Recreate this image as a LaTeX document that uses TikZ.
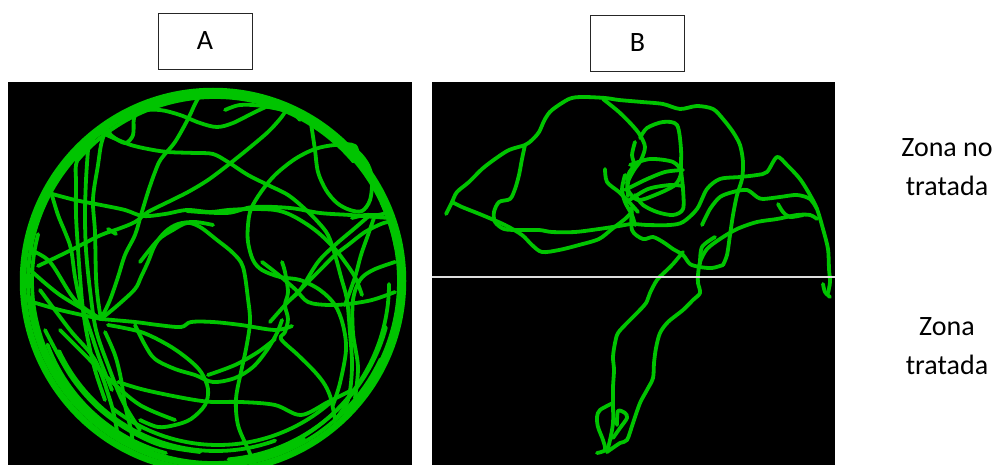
\documentclass[tikz,border=0pt]{standalone}
\usepackage{fontspec}
\setmainfont{Carlito}
\definecolor{trk}{RGB}{0,196,0}
\definecolor{midline}{RGB}{222,222,222}
\newcommand{\ringarc}[5][0]{\draw[trk] plot[domain=#3:#4, samples=70, smooth] ({213+#5+#2*cos(\x)},{281+#1-#2*sin(\x)});}
\begin{document}
\begin{tikzpicture}[x=1pt, y=-1pt,
  trk/.style={draw=trk, line width=3.8pt, line join=round, line cap=round},
  labelbox/.style={draw=black!85, line width=0.8pt, minimum width=94pt, minimum height=56pt, inner sep=0pt, font=\fontsize{28}{34}\selectfont},
  sidelabel/.style={font=\fontsize{28}{34}\selectfont, inner sep=0pt, anchor=base}]
\useasboundingbox (0,0) rectangle (995,465);
\fill[white] (0,0) rectangle (995,465);

% ---------- labels ----------
\node[labelbox] (boxA) at (205,41) {A};
\node[labelbox] (boxB) at (637.5,43) {B};
\node[sidelabel] (zn1) at (947,157) {Zona no};
\node[sidelabel] (zn2) at (947,196) {tratada};
\node[sidelabel] (zt1) at (947,335) {Zona};
\node[sidelabel] (zt2) at (947,374) {tratada};

% ---------- panel A ----------
\fill[black] (8,82) rectangle (412,465);
\begin{scope}
\clip (8,82) rectangle (412,465);
\draw[trk, line width=6.5pt] (213,281) circle[radius=190pt];
\ringarc{186}{10}{170}{0}
\ringarc{185}{130}{270}{0}
\ringarc{181}{165}{250}{0}
\ringarc{182}{185}{300}{0}
\ringarc{185}{250}{335}{0}
\ringarc{186}{-45}{25}{0}
\ringarc{179}{275}{345}{0}
\ringarc[-3]{173}{205}{290}{3}
\ringarc[4]{174}{200}{255}{-2}
\ringarc[3]{178}{300}{360}{-2}
\ringarc[-3]{181}{40}{140}{2}
\ringarc[-6]{170}{232}{312}{5}

\draw[trk] plot[smooth, tension=0.55] coordinates {(100,132) (128,144) (148,149) (168,152) (195,153) (213,154) (228,162) (248,175) (268,185) (288,195) (305,209) (318,222) (328,235) (335,255) (341,277) (347,300) (350,333) (352,367) (348,400) (335,420)};
\draw[trk] plot[smooth, tension=0.55] coordinates {(125,118) (140,111) (160,110) (180,115) (200,123) (217,127) (233,123) (253,113) (270,105)};
\draw[trk] plot[smooth, tension=0.55] coordinates {(108,130) (112,136) (125,143) (133,135) (134,118) (140,108)};
\draw[trk] plot[smooth, tension=0.55] coordinates {(200,95) (195,104) (188,119) (175,142) (161,159) (155,172) (148,192) (141,215) (135,235) (125,255) (118,277) (110,300) (101,319)};
\draw[trk] plot[smooth, tension=0.55] coordinates {(285,112) (280,119) (268,132) (248,149) (228,165) (208,180) (188,192) (168,202) (148,212) (135,222) (118,229) (101,235) (81,245) (61,255) (38,266)};
\draw[trk] plot[smooth, tension=0.55] coordinates {(45,192) (75,200) (101,205) (125,210) (143,216) (165,214) (187,210) (210,212) (228,210) (251,209) (275,210) (291,215) (308,225) (321,235) (335,249) (345,262) (355,277) (362,295)};
\draw[trk] plot[smooth, tension=0.55] coordinates {(187,211) (227,213) (253,207) (290,208) (320,213) (350,215) (375,217) (390,218)};
\draw[trk] plot[smooth, tension=0.55] coordinates {(343,142) (358,152) (368,165) (372,180) (370,200) (362,211) (350,210) (337,203) (326,190) (318,172) (315,150) (312,130) (310,118)};
\draw[trk] plot[smooth, tension=0.55] coordinates {(358,163) (355,146) (335,145) (315,149) (295,159) (275,175) (261,192) (251,209) (248,225) (248,242) (253,260) (262,270) (280,277) (300,280) (320,290) (335,305) (343,325) (346,350) (340,383) (333,405)};
\draw[trk] plot[smooth, tension=0.55] coordinates {(140,262) (158,240) (173,230) (187,223) (200,227) (217,240) (233,253) (243,267) (248,299) (250,322) (246,349) (241,372) (236,399) (238,425) (248,449) (255,465)};
\draw[trk] plot[smooth, tension=0.55] coordinates {(213,225) (195,222) (178,224) (165,232) (155,245) (148,262) (141,277) (135,289) (118,305) (101,319)};
\draw[trk] plot[smooth, tension=0.55] coordinates {(101,319) (135,322) (158,325) (181,327) (191,322) (213,322) (241,325) (275,330) (292,326)};
\draw[trk] plot[smooth, tension=0.55] coordinates {(28,268) (60,295) (101,319)};
\draw[trk] plot[smooth, tension=0.55] coordinates {(26,300) (60,310) (101,319)};
\draw[trk] plot[smooth, tension=0.55] coordinates {(30,250) (50,262) (75,300) (101,319)};
\draw[trk] plot[smooth, tension=0.55] coordinates {(108,325) (141,332) (168,345) (188,359) (201,372) (208,389) (205,405) (191,419) (175,425) (158,427) (140,420)};
\draw[trk] plot[smooth, tension=0.55] coordinates {(135,325) (145,345) (155,359) (175,369) (195,375) (213,382) (235,378) (253,367) (267,350) (277,333) (282,320)};
\draw[trk] plot[smooth, tension=0.55] coordinates {(118,382) (141,389) (168,395) (195,400) (213,402) (241,402) (275,405) (301,415) (328,402) (352,390)};
\draw[trk] plot[smooth, tension=0.55] coordinates {(105,332) (115,355) (121,379) (125,405) (131,430) (133,445)};
\draw[trk] plot[smooth, tension=0.55] coordinates {(282,262) (285,272) (288,292) (285,305) (288,319) (285,332) (281,339) (298,355) (315,372) (325,385) (331,399) (335,420)};
\draw[trk] plot[smooth, tension=0.55] coordinates {(370,215) (355,228) (335,245) (318,262) (301,289) (291,299) (285,305) (270,322)};
\draw[trk] plot[smooth, tension=0.55] coordinates {(262,262) (275,272) (295,289) (308,302) (328,305) (348,304) (372,300) (395,292)};
\draw[trk] plot[smooth, tension=0.55] coordinates {(395,262) (373,270) (360,280) (353,300) (353,333) (358,367) (355,398)};
\draw[trk] plot[smooth, tension=0.55] coordinates {(390,212) (378,215) (365,215) (352,218)};
\draw[trk] plot[smooth, tension=0.55] coordinates {(388,222) (381,224) (365,232) (348,245) (335,255) (321,269) (305,285) (290,300)};
\draw[trk] plot[smooth, tension=0.55] coordinates {(375,215) (368,235) (361,255) (355,277) (345,305)};
\draw[trk] plot[smooth, tension=0.55] coordinates {(82,148) (76,165) (76,182) (76,215) (78,249) (80,277) (83,310) (88,340) (95,370) (105,400)};
\draw[trk] plot[smooth, tension=0.55] coordinates {(105,132) (101,145) (98,165) (93,199) (95,232) (96,277) (98,300) (101,319)};
\draw[trk] plot[smooth, tension=0.55] coordinates {(51,192) (58,215) (65,232) (71,249) (75,277) (80,300) (90,330) (100,360) (112,390)};
\draw[trk] plot[smooth, tension=0.55] coordinates {(88,150) (86,180) (85,215) (86,250) (90,290) (96,330) (108,365) (122,400) (140,430)};
\draw[trk] (108,229) -- (116,234);
\draw[trk] plot[smooth, tension=0.55] coordinates {(208,375) (235,365) (258,352) (275,339)};
\draw[trk] plot[smooth, tension=0.55] coordinates {(60,330) (85,355) (110,380) (140,405) (175,420)};
\draw[trk] plot[smooth, tension=0.55] coordinates {(45,330) (70,375) (95,405) (125,428) (160,445) (200,452)};
\draw[trk] plot[smooth, tension=0.55] coordinates {(40,290) (70,330) (95,360) (110,400) (116,425) (118,440)};
\draw[trk] plot[smooth, tension=0.55] coordinates {(225,110) (240,105) (262,106) (290,112) (300,120)};
\end{scope}

% ---------- panel B ----------
\fill[black] (432,82) rectangle (835,465);
\begin{scope}
\clip (432,82) rectangle (835,465);
\draw[trk] plot[smooth, tension=0.5] coordinates {(446,214) (452,202) (457,192) (469,182) (482,169) (495,159) (509,150) (525,145) (532,140) (539,132) (545,119) (552,110) (569,99) (582,97) (605,98) (619,100) (642,102) (663,104) (680,109) (697,106) (713,109) (723,119) (733,132) (740,145) (743,162) (742,179) (737,195) (733,215) (730,235) (727,255) (723,265)};
\draw[trk] plot[smooth, tension=0.5] coordinates {(525,145) (522,159) (519,175) (515,189) (510,199) (499,202) (494,212) (495,222) (504,229) (519,230) (539,230) (552,232) (575,232) (599,229) (619,226) (632,224) (647,225) (670,225) (683,222) (697,209) (707,189) (720,179) (740,177) (757,175) (767,172) (777,157) (787,165) (800,179) (810,195) (817,209) (823,229) (828,249) (829,269) (830,282) (828,293)};
\draw[trk] plot[smooth, tension=0.5] coordinates {(823,284) (825,292) (830,297)};
\draw[trk] plot[smooth, tension=0.5] coordinates {(452,202) (462,207) (482,215) (505,225) (522,235) (532,245) (542,252) (559,250) (579,245) (599,239) (612,229) (625,219) (632,212)};
\draw[trk] plot[smooth, tension=0.5] coordinates {(603,99) (619,112) (632,125) (640,135) (645,147) (641,160) (634,170) (628,182) (628,196)};
\draw[trk] plot[smooth, tension=0.5] coordinates {(640,138) (647,128) (663,122) (677,125) (681,149) (681,169) (683,189) (683,209) (673,215) (657,212) (643,205) (635,195)};
\draw[trk] plot[smooth, tension=0.5] coordinates {(630,165) (650,159) (673,162) (681,172) (675,185) (655,195) (638,200) (628,190) (628,175) (635,165)};
\draw[trk] plot[smooth, tension=0.5] coordinates {(625,190) (645,180) (665,172) (683,170)};
\draw[trk] plot[smooth, tension=0.5] coordinates {(628,201) (648,189) (670,185) (683,186)};
\draw[trk] plot[smooth, tension=0.5] coordinates {(605,169) (607,182) (619,192) (629,202) (638,212)};
\draw[trk] plot[smooth, tension=0.5] coordinates {(635,142) (632,155) (635,165)};
\draw[trk] plot[smooth, tension=0.5] coordinates {(625,175) (622,189) (625,202) (632,215) (635,225)};
\draw[trk] plot[smooth, tension=0.5] coordinates {(632,207) (632,230) (643,239) (653,237) (663,242) (673,249) (683,255) (690,264) (700,267) (712,268) (723,265)};
\draw[trk] plot[smooth, tension=0.5] coordinates {(683,252) (673,264) (667,270) (657,280) (650,293) (646,303) (637,313) (627,323) (618,333) (615,343) (613,357) (614,370) (613,387) (613,403) (613,423) (610,440) (607,452)};
\draw[trk] plot[smooth, tension=0.5] coordinates {(613,403) (600,410) (597,417) (598,427) (603,440) (605,450) (597,453)};
\draw[trk] plot[smooth, tension=0.5] coordinates {(617,425) (618,411) (625,413) (627,418) (620,428) (613,438)};
\draw[trk] plot[smooth, tension=0.5] coordinates {(607,452) (620,443) (627,440) (633,423) (640,403) (647,390) (653,378) (654,363) (656,348) (660,333) (668,322) (683,310) (693,300) (700,293) (698,283) (698,275) (700,262) (707,249) (720,239) (737,229) (757,222) (777,219) (797,215) (810,215) (817,219)};
\draw[trk] plot[smooth, tension=0.5] coordinates {(700,264) (702,247) (715,237)};
\draw[trk] plot[smooth, tension=0.5] coordinates {(702,225) (710,209) (720,197) (733,192) (747,190) (757,197) (763,199) (780,197) (797,195) (810,199) (817,209)};
\draw[trk] plot[smooth, tension=0.5] coordinates {(778,204) (783,212) (790,217) (803,215)};
\draw[midline, line width=2.6pt] (432,277) -- (835,277);
\end{scope}
\end{tikzpicture}
\end{document}
